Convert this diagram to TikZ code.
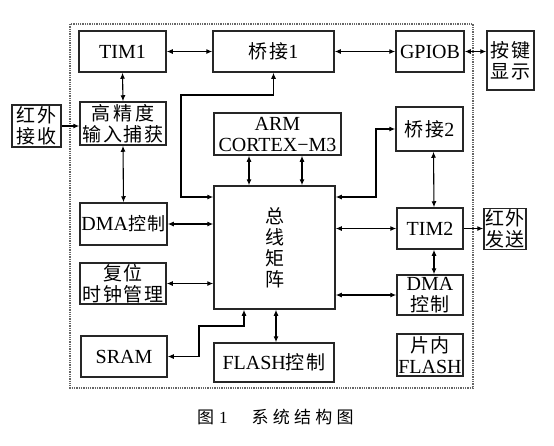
\documentclass[tikz,border=0pt]{standalone}
\usepackage{fontspec}
\setmainfont{Liberation Serif}
\newfontfamily\cjk[LetterSpace=8]{Noto Sans CJK SC}
\newfontfamily\cjkcap[LetterSpace=25]{Noto Sans CJK SC}
\usetikzlibrary{arrows.meta, positioning, calc}
\tikzset{
  blk/.style={rectangle, draw=black!85, line width=1.5pt, inner sep=1pt,
              align=center, font=\fontsize{20}{21}\selectfont},
  blkC/.style={blk, font=\cjk\fontsize{19}{21}\selectfont},
  dbl/.style={{Latex[length=6pt,width=5pt]}-{Latex[length=6pt,width=5pt]},
              line width=1.1pt},
  arrow/.style={-{Latex[length=6pt,width=5pt]}, line width=1.1pt},
  frame/.style={densely dotted, draw=black!60, line width=1.3pt},
}
\begin{document}
\begin{tikzpicture}[x=1pt, y=-1pt]
  \useasboundingbox (0,0) rectangle (554,445);

  % Chip boundary
  \draw[frame] (70,24) rectangle (473,388);

  % Blocks
  \node[blk, minimum width=87, minimum height=41] (tim1)    at (122.5,51.5) {TIM1};
  \node[blk, minimum width=121, minimum height=41] (bridge1) at (273.5,51.5) {{\cjk\fontsize{19}{21}\selectfont 桥接}1};
  \node[blk, minimum width=68, minimum height=41] (gpiob)   at (430,51.5)   {GPIOB};
  \node[blkC, minimum width=47, minimum height=59] (keys)   at (510.5,60.5) {按键\\显示};
  \node[blkC, minimum width=49, minimum height=42] (irrx)   at (36.5,126)   {红外\\接收};
  \node[blkC, minimum width=86, minimum height=43] (capture) at (123,123.5) {高\,精\,度\\输入捕获};
  \node[blk, minimum width=127, minimum height=42] (arm)    at (277.5,134)  {ARM\\CORTEX−M3};
  \node[blk, minimum width=67, minimum height=44] (bridge2) at (429.5,129) {{\cjk\fontsize{19}{21}\selectfont 桥接}2};
  \node[blkC, minimum width=121, minimum height=123] (bus)  at (274.5,247.5) {总\\线\\矩\\阵};
  \node[blk, minimum width=87, minimum height=42] (dmal)    at (123.5,224) {DMA{\cjk\fontsize{18}{21}\selectfont 控制}};
  \node[blk, minimum width=66, minimum height=41] (tim2)    at (430,228.5) {TIM2};
  \node[blkC, minimum width=42, minimum height=40] (irtx)   at (505,229)   {红外\\发送};
  \node[blk, minimum width=66, minimum height=40] (dmar)    at (430,295)   {DMA\\{\cjk\fontsize{19}{21}\selectfont 控制}};
  \node[blkC, minimum width=86, minimum height=41] (rst)    at (123,283.5) {复位\\时钟管理};
  \node[blk, minimum width=86, minimum height=41] (sram)    at (124,356.5) {SRAM};
  \node[blk, minimum width=120, minimum height=39] (flashc) at (274,362.5) {FLASH{\cjk\fontsize{19}{21}\selectfont 控制}};
  \node[blk, minimum width=66, minimum height=42] (iflash)  at (430,355)   {{\cjk\fontsize{19}{21}\selectfont 片内}\\FLASH};

  % Bend points
  \coordinate (lk1) at (181,95);
  \coordinate (lk2) at (181,197);
  \coordinate (lk3) at (376,197);
  \coordinate (lk4) at (244,326);
  \coordinate (lk5) at (199,326);

  % Top row
  \draw[dbl] (tim1.east) -- (bridge1.west);
  \draw[dbl] (bridge1.east) -- (gpiob.west);
  \draw[dbl] (gpiob.east) -- (gpiob.east -| keys.west);

  % Left column
  \draw[arrow] (irrx.east) -- (irrx.east -| capture.west);
  \draw[dbl] (tim1.south) -- (capture.north);
  \draw[dbl] (capture.south) -- (dmal.north);
  \draw[dbl] (dmal.east) -- (dmal.east -| bus.west);
  \draw[dbl] (rst.east) -- (rst.east -| bus.west);

  % Bus matrix links
  \draw[dbl] (bridge1.south) |- (lk1) -- (lk2) -- (lk2 -| bus.west);
  \draw[dbl] ([xshift=-28.5]arm.south) -- ([xshift=-28.5]arm.south |- bus.north);
  \draw[dbl] ([xshift=24.5]arm.south) -- ([xshift=24.5]arm.south |- bus.north);
  \draw[dbl] (lk3 -| bus.east) -- (lk3) |- (bridge2.west);
  \draw[dbl] (tim2.west -| bus.east) -- (tim2.west);
  \draw[dbl] (dmar.west -| bus.east) -- (dmar.west);
  \draw[dbl] (lk4 |- bus.south) -- (lk4) -- (lk5) |- (sram.east);
  \draw[dbl] ([xshift=1.5]bus.south) -- ([xshift=1.5]bus.south |- flashc.north);

  % Right column
  \draw[dbl] ([xshift=4]bridge2.south) -- ([xshift=4]tim2.north);
  \draw[dbl] ([xshift=4]tim2.south) -- ([xshift=4]dmar.north);
  \draw[arrow] (tim2.east) -- (tim2.east -| irtx.west);

  % Caption
  \node[anchor=west, inner sep=0, font=\fontsize{17}{17}\selectfont] (cap) at (197,417)
    {{\cjk 图}\hspace{5pt}1\hspace{24pt}{\cjkcap 系统结构图}};
\end{tikzpicture}
\end{document}
